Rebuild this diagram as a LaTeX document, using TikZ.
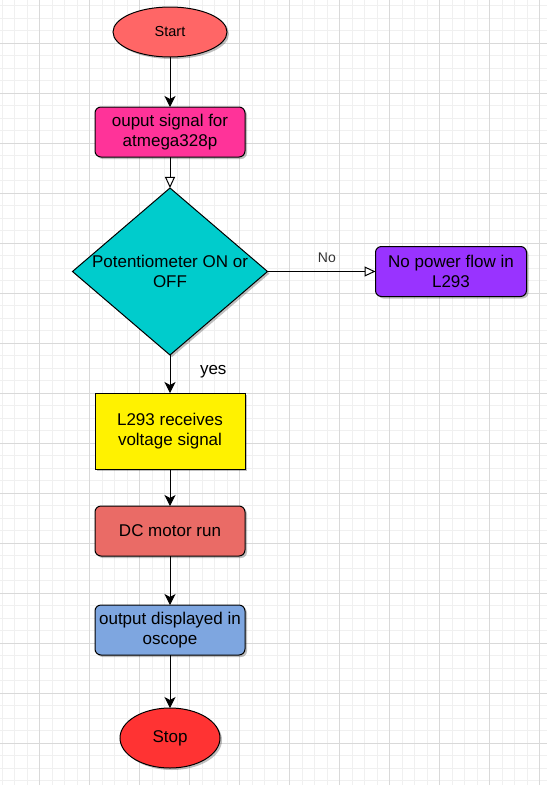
\documentclass[tikz,border=0pt]{standalone}
\usepackage{fontspec}
\setmainfont{Liberation Sans}
\usetikzlibrary{positioning, shapes.geometric, arrows.meta, shadows}
\definecolor{startred}{HTML}{FF6666}
\definecolor{outpink}{HTML}{FF3399}
\definecolor{potcyan}{HTML}{00CCCC}
\definecolor{nopurple}{HTML}{9933FF}
\definecolor{motorred}{HTML}{EA6B66}
\definecolor{dispblue}{HTML}{7EA6E0}
\definecolor{stopred}{HTML}{FF3333}
\definecolor{gridminor}{HTML}{F0F0F0}
\definecolor{gridmajor}{HTML}{D9D9D9}

\begin{document}
\begin{tikzpicture}[x=1pt, y=-1pt,
  every node/.style={font=\fontsize{17}{20}\selectfont, align=center, inner sep=0pt, outer sep=0pt},
  flowshape/.style={draw, line width=1pt,
    drop shadow={shadow xshift=2pt, shadow yshift=-2pt, opacity=0.25, fill=black}},
  box/.style={flowshape, rectangle, rounded corners=6pt, minimum width=150pt, minimum height=50pt},
  term/.style={flowshape, ellipse},
  arr/.style={line width=1pt, -{Stealth[length=11pt, width=11pt, inset=3pt]}},
  oarr/.style={line width=1pt, -{Triangle[length=11pt, width=10pt, fill=white]}}]
  % grid
  \useasboundingbox[fill=white] (0,0) rectangle (547,785);
  \foreach \x in {2,14.5,...,547} \draw[gridminor, line width=1pt] (\x,0) -- (\x,785);
  \foreach \y in {5.8,18.3,...,785} \draw[gridminor, line width=1pt] (0,\y) -- (547,\y);
  \foreach \x in {39.5,89.5,...,547} \draw[gridmajor, line width=1pt] (\x,0) -- (\x,785);
  \foreach \y in {43.3,93.3,...,785} \draw[gridmajor, line width=1pt] (0,\y) -- (547,\y);

  \node[term, fill=startred, minimum width=114pt, minimum height=50pt, font=\fontsize{14.5}{17}\selectfont] (Start) at (170,32) {Start};
  \node[box, fill=outpink, below=50pt of Start] (Out) {ouput signal for\\atmega328p};
  \node[flowshape, diamond, fill=potcyan, minimum width=195pt, minimum height=167pt, below=31pt of Out,
    label={[align=center]center:Potentiometer ON or\\OFF}] (Pot) {};
  \node[box, fill=nopurple, minimum width=151pt, right=108pt of Pot] (NoPow) {No power flow in\\L293};
  \node[box, fill=yellow, rounded corners=0pt, minimum height=76pt, below=38pt of Pot] (L293) {L293 receives\\voltage signal};
  \node[box, fill=motorred, below=37pt of L293] (Motor) {DC motor run};
  \node[box, fill=dispblue, below=49pt of Motor] (Disp) {output displayed in\\oscope};
  \node[term, fill=stopred, minimum width=100pt, minimum height=60pt, below=53pt of Disp] (Stop) {Stop};

  \draw[arr] (Start) -- (Out);
  \draw[oarr] (Out) -- (Pot);
  \draw[oarr] (Pot) -- node[pos=0.55, above=9pt, font=\fontsize{14}{16}\selectfont, text=black!80] {No} (NoPow);
  \draw[arr] (Pot) -- node[pos=0.44, anchor=west, xshift=30pt] {yes} (L293);
  \draw[arr] (L293) -- (Motor);
  \draw[arr] (Motor) -- (Disp);
  \draw[arr] (Disp) -- (Stop);
\end{tikzpicture}
\end{document}
